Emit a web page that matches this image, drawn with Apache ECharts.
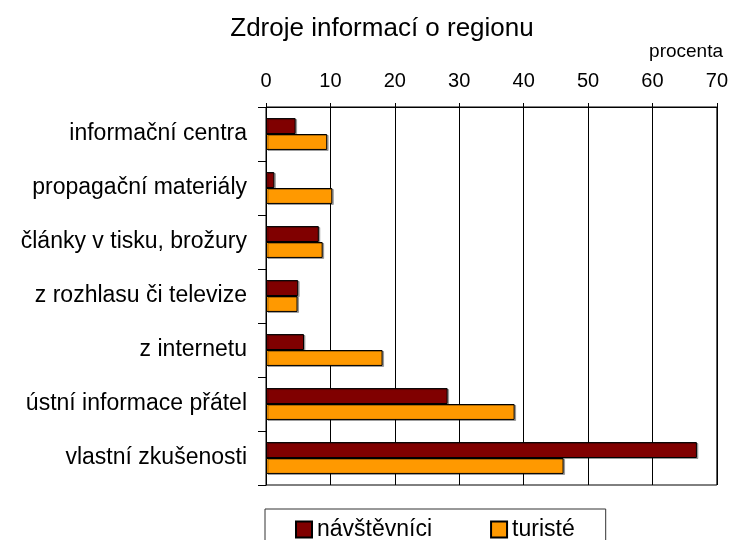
<!DOCTYPE html>
<html>
<head>
<meta charset="utf-8">
<script src="https://cdn.jsdelivr.net/npm/echarts@6/dist/echarts.min.js"></script>
<style>
  html, body { margin: 0; padding: 0; background: #fff; }
  #chart { width: 731px; height: 540px; }
</style>
</head>
<body>
<div id="chart"></div>
<script>
const categories = [
  'informační centra',
  'propagační materiály',
  'články v tisku, brožury',
  'z rozhlasu či televize',
  'z internetu',
  'ústní informace přátel',
  'vlastní zkušenosti'
]
const navstevnici = [4.6, 1.3, 8.2, 5.0, 5.9, 28.2, 66.9]
const turiste = [9.5, 10.3, 8.8, 4.9, 18.1, 38.6, 46.2]

const font = 'Arial, "Liberation Sans", sans-serif'

const chart = echarts.init(document.getElementById('chart'))

const barStyle = (color) => ({
  color: color,
  borderColor: '#000',
  borderWidth: 1,
  shadowColor: 'rgba(0,0,0,0.3)',
  shadowOffsetX: 1.5,
  shadowOffsetY: 1,
  shadowBlur: 0
})

const option = {
  animation: false,
  title: [{
    text: 'Zdroje informací o regionu',
    left: 377,
    top: 11,
    textAlign: 'center',
    textStyle: { fontFamily: font, fontSize: 26, fontWeight: 'normal', color: '#000' }
  }, {
    text: 'procenta',
    right: 3,
    top: 37,
    textStyle: { fontFamily: font, fontSize: 19, fontWeight: 'normal', color: '#000' }
  }],
  legend: {
    left: 265,
    top: 509,
    orient: 'horizontal',
    padding: [9, 31, 9, 30],
    itemGap: 58,
    itemWidth: 16,
    itemHeight: 16,
    borderColor: '#333',
    borderWidth: 1,
    icon: 'rect',
    textStyle: { fontFamily: font, fontSize: 23, color: '#000' },
    data: ['návštěvníci', 'turisté']
  },
  grid: {
    left: 266,
    right: 13,
    top: 107,
    bottom: 55,
    show: true,
    borderColor: '#000',
    borderWidth: 1
  },
  xAxis: {
    type: 'value',
    position: 'top',
    min: 0,
    max: 70,
    interval: 10,
    axisLine: { show: true, lineStyle: { color: '#000' } },
    axisTick: { show: true, length: 4, lineStyle: { color: '#000' } },
    axisLabel: { margin: 16, fontFamily: font, fontSize: 20, color: '#000' },
    splitLine: { show: true, lineStyle: { color: '#000', width: 1 } }
  },
  yAxis: {
    type: 'category',
    inverse: true,
    data: categories,
    axisLine: { show: true, lineStyle: { color: '#000' } },
    axisTick: { show: true, length: 8, lineStyle: { color: '#000' } },
    axisLabel: { margin: 19, fontFamily: font, fontSize: 23, color: '#000' }
  },
  series: [
    {
      name: 'návštěvníci',
      type: 'bar',
      data: navstevnici,
      barGap: '0%',
      barCategoryGap: '41%',
      itemStyle: barStyle('#800000')
    },
    {
      name: 'turisté',
      type: 'bar',
      data: turiste,
      barGap: '0%',
      barCategoryGap: '41%',
      itemStyle: barStyle('#FF9900')
    }
  ]
}

chart.setOption(option)
</script>
</body>
</html>
